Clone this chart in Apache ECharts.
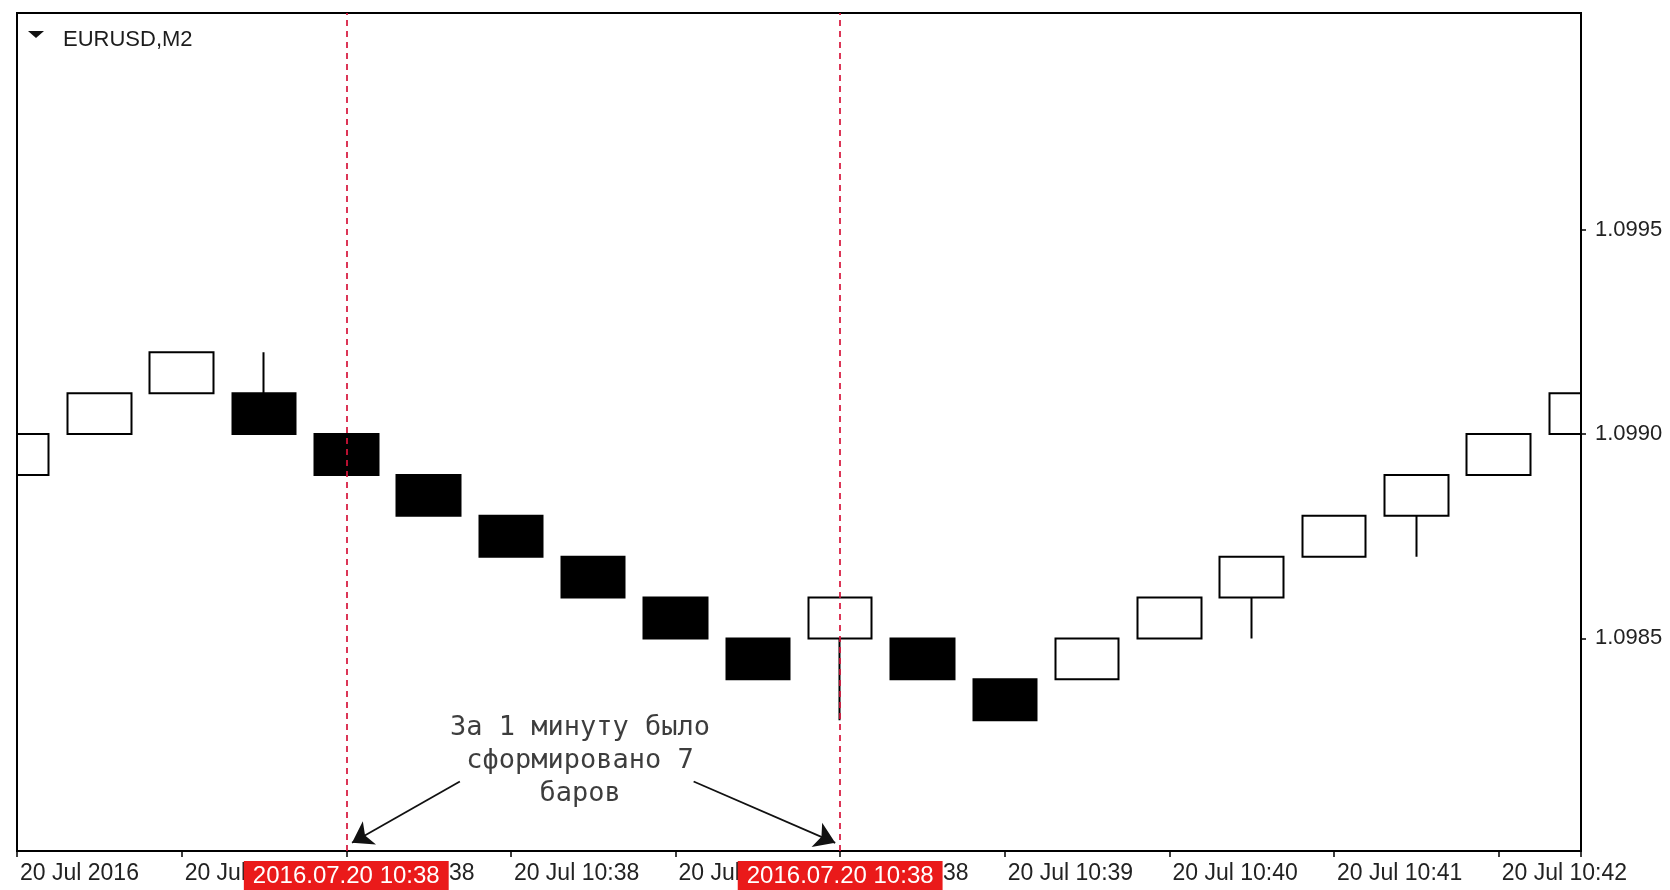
<!DOCTYPE html>
<html>
<head>
<meta charset="utf-8">
<script src="https://cdn.jsdelivr.net/npm/echarts@6/dist/echarts.min.js"></script>
<style>
html,body{margin:0;padding:0;background:#fff;}
#main{width:1670px;height:890px;}
</style>
</head>
<body>
<div id="main"></div>
<script>
// ---- data ----
const symbolName = 'EURUSD,M2';
const opens  = [1.0989,1.0990,1.0991,1.0991,1.0990,1.0989,1.0988,1.0987,1.0986,1.0985,1.0985,1.0985,1.0984,1.0984,1.0985,1.0986,1.0987,1.0988,1.0989,1.0990];
const closes = [1.0990,1.0991,1.0992,1.0990,1.0989,1.0988,1.0987,1.0986,1.0985,1.0984,1.0986,1.0984,1.0983,1.0985,1.0986,1.0987,1.0988,1.0989,1.0990,1.0991];
const lows   = [1.0988,1.0990,1.0991,1.0990,1.0989,1.0988,1.0987,1.0986,1.0985,1.0984,1.0983,1.0984,1.0983,1.0984,1.0985,1.0985,1.0987,1.0987,1.0989,1.0990];
const highs  = [1.0990,1.0991,1.0992,1.0992,1.0990,1.0989,1.0988,1.0987,1.0986,1.0985,1.0986,1.0985,1.0984,1.0985,1.0986,1.0987,1.0988,1.0989,1.0990,1.0991];
// x tick labels, one every second bar
const tickLabels = ['20 Jul 2016','20 Jul 10:38','20 Jul 10:38','20 Jul 10:38','20 Jul 10:38','20 Jul 10:38','20 Jul 10:39','20 Jul 10:40','20 Jul 10:41','20 Jul 10:42'];
const priceTicks = [1.0985, 1.0990, 1.0995];
const markedBars = [4, 10];
const markedTime = '2016.07.20 10:38';
const noteLines = ['За 1 минуту было', 'сформировано 7', 'баров'];

// ---- build ----
const categories = opens.map((_, i) => (i % 2 === 0 ? tickLabels[i / 2] : ''));
const candles = opens.map((o, i) => [o, closes[i], lows[i], highs[i]]);

const chart = echarts.init(document.getElementById('main'), null, {renderer: 'canvas'});
const labelFont = 'Liberation Sans, Arial, sans-serif';

chart.setOption({
  animation: false,
  backgroundColor: '#ffffff',
  title: {
    text: symbolName,
    left: 58, top: 24,
    textStyle: {fontFamily: labelFont, fontSize: 22, fontWeight: 'normal', color: '#1c1c1c'}
  },
  graphic: [
    // masks that clip the half-bars sticking out of the plot
    {type: 'rect', z: 2.5, shape: {x: 0, y: 0, width: 16, height: 890}, style: {fill: '#ffffff'}, silent: true},
    {type: 'rect', z: 2.5, shape: {x: 1582, y: 0, width: 88, height: 851}, style: {fill: '#ffffff'}, silent: true},
    {type: 'polygon', z: 4, shape: {points: [[28, 31], [44, 31], [36, 38]]}, style: {fill: '#111'}}
  ],
  grid: {
    left: 17, right: 89, top: 13, bottom: 39, z: 3,
    show: true, borderColor: '#000', borderWidth: 2, backgroundColor: 'transparent'
  },
  xAxis: [{
    type: 'category',
    z: 3,
    data: categories,
    boundaryGap: false,
    axisLine: {show: true, onZero: false, lineStyle: {color: '#000', width: 2}},
    axisTick: {show: true, interval: 1, length: 6, lineStyle: {color: '#000', width: 1.5}},
    axisLabel: {
      interval: 1, align: 'left', margin: 11, padding: [0, 0, 0, 3],
      fontFamily: labelFont, fontSize: 23, color: '#222',
      showMinLabel: true, showMaxLabel: true
    },
    splitLine: {show: false}
  }, {
    type: 'value', min: 0, max: opens.length - 1, show: false,
    axisLine: {onZero: false}
  }],
  yAxis: {
    type: 'value',
    z: 3,
    position: 'right',
    min: 1.09798, max: 1.10003,
    scale: true,
    splitLine: {show: false},
    axisLine: {show: true, onZero: false, lineStyle: {color: '#000', width: 2}},
    axisTick: {show: true, customValues: priceTicks, length: 5, lineStyle: {color: '#000', width: 1.5}},
    axisLabel: {
      customValues: priceTicks, margin: 14,
      formatter: v => Number(v).toFixed(4),
      fontFamily: labelFont, fontSize: 22, color: '#222'
    }
  },
  series: [{
    type: 'candlestick',
    data: candles,
    clip: true,
    barWidth: 64,
    z: 2,
    itemStyle: {color: '#ffffff', color0: '#000000', borderColor: '#000000', borderColor0: '#000000', borderWidth: 2}
  }, {
    type: 'line',
    data: [],
    xAxisIndex: 0,
    z: 4,
    markLine: {
      silent: true,
      symbol: ['none', 'none'],
      lineStyle: {color: '#d6133a', width: 1.7, type: [6, 5]},
      label: {
        show: true, position: 'start', distance: 10,
        formatter: markedTime,
        backgroundColor: '#ea1a1a', color: '#ffffff',
        fontFamily: labelFont, fontSize: 24, padding: [3, 9, 3, 9]
      },
      data: markedBars.map(b => ({xAxis: b}))
    }
  }, {
    type: 'scatter',
    xAxisIndex: 1,
    symbolSize: 0,
    z: 4,
    data: [[6.84, 1.09820]],
    label: {
      show: true, position: 'inside',
      formatter: noteLines.join('\n'),
      fontFamily: 'DejaVu Sans Mono, monospace', fontSize: 27, lineHeight: 33,
      color: '#0c0c0c', align: 'center'
    },
    markLine: {
      silent: true,
      symbol: ['none', 'arrow'],
      symbolSize: 20,
      lineStyle: {color: '#111', width: 1.8, type: 'solid'},
      label: {show: false},
      data: [
        [{coord: [5.38, 1.09815]}, {coord: [4.07, 1.098]}],
        [{coord: [8.22, 1.09815]}, {coord: [9.94, 1.098]}]
      ]
    }
  }]
});
</script>
</body>
</html>
